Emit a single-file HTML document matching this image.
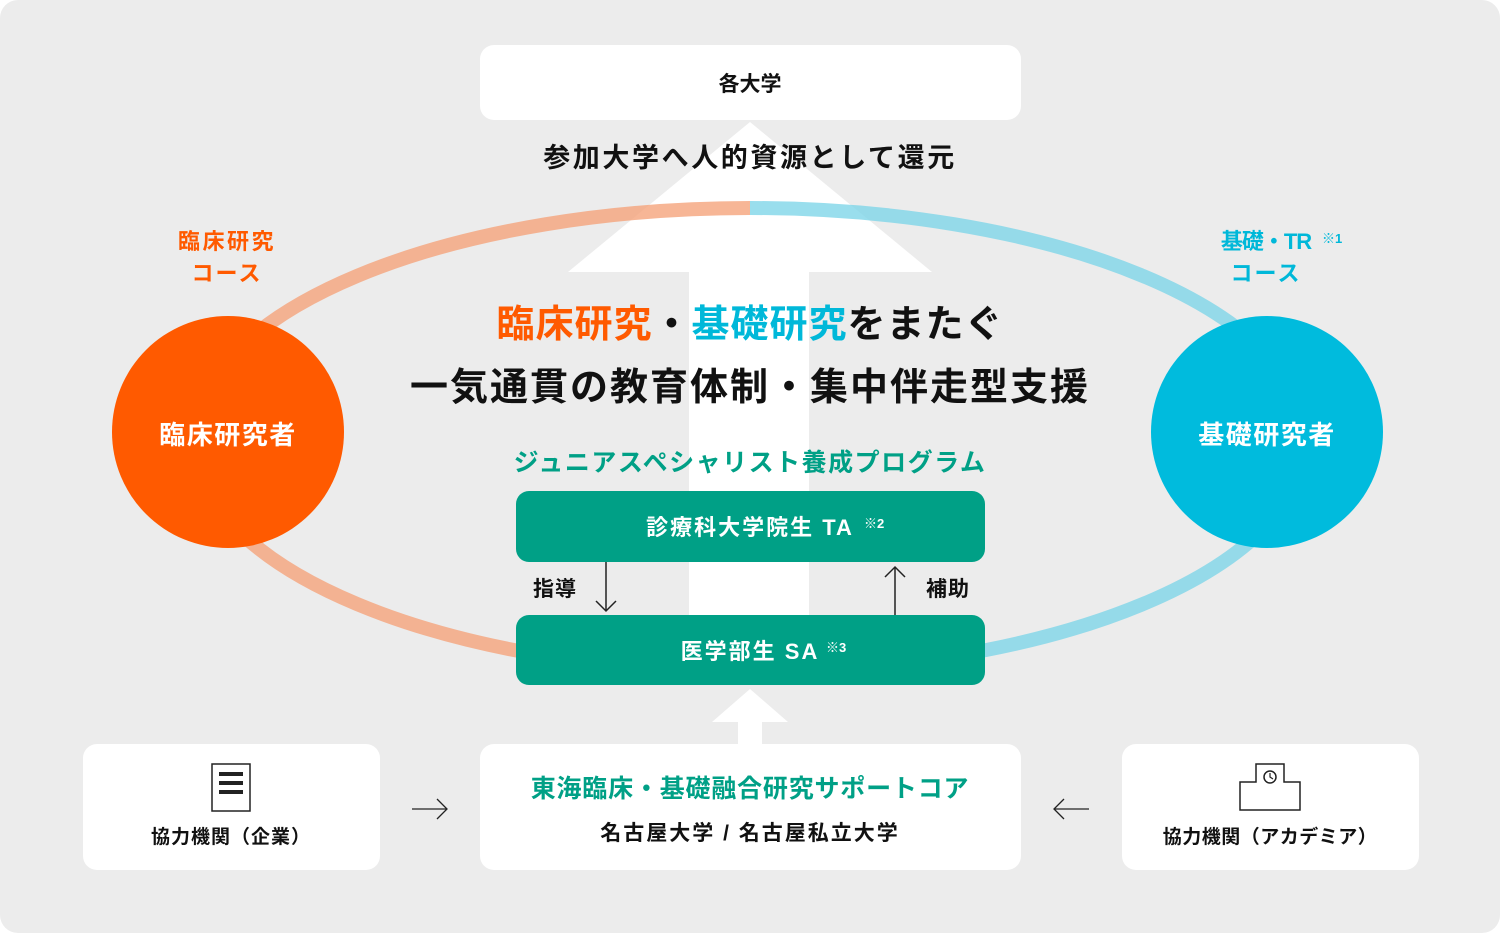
<!DOCTYPE html>
<html><head><meta charset="utf-8"><style>
html,body{margin:0;padding:0;background:#fff;}
svg{display:block;}
text{font-family:"Liberation Sans","Noto Sans CJK JP",sans-serif;font-weight:bold;}
</style></head><body>
<svg width="1500" height="933" viewBox="0 0 1500 933" xmlns="http://www.w3.org/2000/svg">
<rect x="0" y="0" width="1500" height="933" rx="18" fill="#ececec"/>
<polygon points="750,122 932,272 809,272 809,620 689,620 689,272 568,272" fill="#fff"/>
<path d="M750,208 A556,232 0 0 0 750,672" fill="none" stroke="#f5a47c" stroke-opacity="0.8" stroke-width="14"/>
<path d="M750,208 A556,232 0 0 1 750,672" fill="none" stroke="#7fd6e8" stroke-opacity="0.8" stroke-width="14"/>
<rect x="480" y="45" width="541" height="75" rx="14" fill="#fff"/>
<text x="750" y="91" font-size="21" text-anchor="middle" fill="#111" font-weight="normal">各大学</text>
<text x="750" y="167" font-size="27" text-anchor="middle" fill="#111" letter-spacing="2.6">参加大学へ人的資源として還元</text>
<text x="227" y="249" font-size="22" text-anchor="middle" fill="#ff5a00" letter-spacing="2.5">臨床研究</text>
<text x="227" y="281" font-size="22" text-anchor="middle" fill="#ff5a00" letter-spacing="2">コース</text>
<text x="1266" y="249" font-size="22" text-anchor="middle" fill="#00b8d9" letter-spacing="-1">基礎・TR</text>
<text x="1322" y="243" font-size="13" fill="#00b8d9" font-weight="normal">※1</text>
<text x="1266" y="281" font-size="22" text-anchor="middle" fill="#00b8d9" letter-spacing="2">コース</text>
<circle cx="228" cy="432" r="116" fill="#ff5a00"/>
<text x="228" y="444" font-size="26" text-anchor="middle" fill="#fff" letter-spacing="1.5">臨床研究者</text>
<circle cx="1267" cy="432" r="116" fill="#00bbdd"/>
<text x="1267" y="444" font-size="26" text-anchor="middle" fill="#fff" letter-spacing="1.5">基礎研究者</text>
<text x="750" y="337" font-size="38" text-anchor="middle" fill="#111" letter-spacing="1"><tspan fill="#ff5a00">臨床研究</tspan>・<tspan fill="#00b8d9">基礎研究</tspan>をまたぐ</text>
<text x="750" y="400" font-size="38" text-anchor="middle" fill="#111" letter-spacing="2">一気通貫の教育体制・集中伴走型支援</text>
<text x="750" y="471" font-size="25" text-anchor="middle" fill="#00a086" letter-spacing="1.5">ジュニアスペシャリスト養成プログラム</text>
<rect x="516" y="491" width="469" height="71" rx="13" fill="#00a086"/>
<text x="750" y="535" font-size="22" text-anchor="middle" fill="#fff" letter-spacing="2">診療科大学院生 TA</text>
<text x="864" y="528" font-size="13" fill="#fff" font-weight="normal">※2</text>
<rect x="516" y="615" width="469" height="70" rx="13" fill="#00a086"/>
<text x="750" y="659" font-size="22" text-anchor="middle" fill="#fff" letter-spacing="2">医学部生 SA</text>
<text x="826" y="652" font-size="13" fill="#fff" font-weight="normal">※3</text>
<line x1="606" y1="562" x2="606" y2="611" stroke="#222" stroke-width="1.5"/>
<polyline points="596,601 606,611 616,601" fill="none" stroke="#222" stroke-width="1.5"/>
<line x1="895" y1="567" x2="895" y2="615" stroke="#222" stroke-width="1.5"/>
<polyline points="885,577 895,567 905,577" fill="none" stroke="#222" stroke-width="1.5"/>
<text x="555" y="596" font-size="21" text-anchor="middle" fill="#111" letter-spacing="1">指導</text>
<text x="948" y="596" font-size="21" text-anchor="middle" fill="#111" letter-spacing="1">補助</text>
<polygon points="750,689 788,722 762,722 762,745 738,745 738,722 712,722" fill="#fff"/>
<rect x="83" y="744" width="297" height="126" rx="14" fill="#fff"/>
<rect x="212" y="764" width="38" height="47" fill="#fff" stroke="#222" stroke-width="1.5"/>
<rect x="219" y="772" width="24" height="4" fill="#222"/>
<rect x="219" y="781" width="24" height="4" fill="#222"/>
<rect x="219" y="790" width="24" height="4" fill="#222"/>
<text x="231" y="843" font-size="19" text-anchor="middle" fill="#111" font-weight="normal" letter-spacing="1">協力機関（企業）</text>
<rect x="480" y="744" width="541" height="126" rx="14" fill="#fff"/>
<text x="750" y="797" font-size="25" text-anchor="middle" fill="#00a086" letter-spacing="0.8">東海臨床・基礎融合研究サポートコア</text>
<text x="750" y="840" font-size="21" text-anchor="middle" fill="#111" font-weight="normal" letter-spacing="2">名古屋大学 / 名古屋私立大学</text>
<rect x="1122" y="744" width="297" height="126" rx="14" fill="#fff"/>
<path d="M1240,810 V782 H1256 V764 H1284 V782 H1300 V810 Z" fill="#fff" stroke="#222" stroke-width="1.5"/>
<circle cx="1270" cy="777" r="6" fill="none" stroke="#222" stroke-width="1.5"/>
<path d="M1270,773 V777 L1273,779" fill="none" stroke="#222" stroke-width="1.2"/>
<text x="1270" y="843" font-size="19" text-anchor="middle" fill="#111" font-weight="normal" letter-spacing="0.5">協力機関（アカデミア）</text>
<line x1="412" y1="809" x2="447" y2="809" stroke="#222" stroke-width="1.3"/>
<polyline points="437,799 447,809 437,819" fill="none" stroke="#222" stroke-width="1.3"/>
<line x1="1054" y1="809" x2="1089" y2="809" stroke="#222" stroke-width="1.3"/>
<polyline points="1064,799 1054,809 1064,819" fill="none" stroke="#222" stroke-width="1.3"/>
</svg>
</body></html>
